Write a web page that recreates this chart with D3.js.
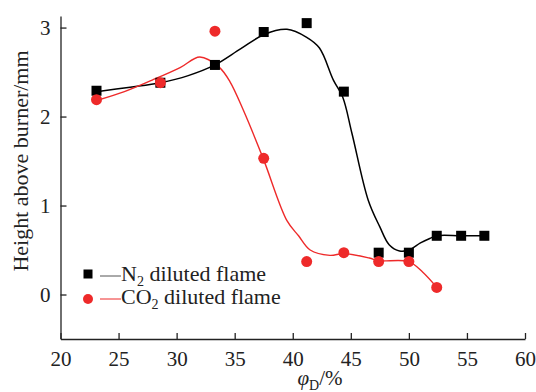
<!DOCTYPE html>
<html>
<head>
<meta charset="utf-8">
<script src="https://cdn.jsdelivr.net/npm/d3@7"></script>
<style>
  body { margin: 0; background: #fff; }
  svg { font-family: "Liberation Serif", "Times New Roman", serif; }
  .axis path, .axis line { stroke: #222; stroke-width: 1.3; }
  .axis text { font-size: 21px; fill: #222; font-family: "Liberation Serif", "Times New Roman", serif; }
</style>
</head>
<body>
<div id="chart"></div>
<script>
// measured points
const n2X = [23.1, 28.6, 33.3, 37.5, 41.2, 44.4, 47.4, 50.0, 52.4, 54.5, 56.5];
const n2Y = [2.29, 2.38, 2.58, 2.95, 3.05, 2.28, 0.47, 0.47, 0.66, 0.66, 0.66];
const co2X = [23.1, 28.6, 33.3, 37.5, 41.2, 44.4, 47.4, 50.0, 52.4];
const co2Y = [2.19, 2.38, 2.96, 1.53, 0.37, 0.47, 0.37, 0.37, 0.08];

// fitted curves
const n2FitX = [23.1, 26, 28.6, 31, 33.3, 35.5, 37.5, 39.5, 41.2, 42.3, 43.5, 44.3, 45.1, 46.5, 47.5, 48.3, 49.2, 50, 51, 51.8, 52.4, 54.5, 56.5];
const n2FitY = [2.28, 2.33, 2.38, 2.46, 2.58, 2.76, 2.92, 2.98, 2.89, 2.77, 2.41, 2.22, 1.81, 1.06, 0.76, 0.56, 0.49, 0.50, 0.58, 0.63, 0.66, 0.66, 0.66];
const co2FitX = [23.1, 25.5, 27.9, 30.3, 32.0, 33.7, 34.6, 35.75, 37.45, 39.5, 40.5, 41.5, 43.2, 44.4, 46.6, 47.4, 50, 51.2, 52.4];
const co2FitY = [2.18, 2.28, 2.41, 2.55, 2.67, 2.55, 2.39, 2.07, 1.53, 0.83, 0.66, 0.50, 0.44, 0.46, 0.41, 0.38, 0.37, 0.25, 0.08];

const xTicks = [20, 25, 30, 35, 40, 45, 50, 55, 60];
const yTicks = [0, 1, 2, 3];

const width = 536, height = 392;
const margin = { top: 16, right: 11, bottom: 53, left: 60.5 };
const serif = '"Liberation Serif", "Times New Roman", serif';

const svg = d3.select('#chart').append('svg')
  .attr('width', width)
  .attr('height', height);

const x = d3.scaleLinear().domain([20, 60]).range([margin.left, width - margin.right]);
const y = d3.scaleLinear().domain([-0.5, 3.13]).range([height - margin.bottom, margin.top]);

// axes, ticks pointing inward
svg.append('g')
  .attr('class', 'axis axis-x')
  .attr('transform', `translate(0, ${height - margin.bottom})`)
  .call(d3.axisBottom(x).tickValues(xTicks).tickFormat(d3.format('d')).tickSizeInner(-6).tickSizeOuter(0).tickPadding(6))
  .call(g => g.selectAll('text').attr('dy', '1.0em').style('font-family', serif));

svg.append('g')
  .attr('class', 'axis axis-y')
  .attr('transform', `translate(${margin.left}, 0)`)
  .call(d3.axisLeft(y).tickValues(yTicks).tickFormat(d3.format('d')).tickSizeInner(-6).tickSizeOuter(0).tickPadding(10))
  .call(g => g.selectAll('text').attr('dy', '0.34em').style('font-family', serif));

// axis titles
svg.append('text')
  .attr('transform', 'translate(28, 161) rotate(-90)')
  .attr('text-anchor', 'middle')
  .style('font-size', '22px')
  .style('fill', '#222')
  .text('Height above burner/mm');

const xt = svg.append('text')
  .attr('x', 320)
  .attr('y', 385)
  .attr('text-anchor', 'middle')
  .style('font-size', '21px')
  .style('fill', '#222');
xt.append('tspan').style('font-style', 'italic').text('φ');
xt.append('tspan').attr('dy', 5).style('font-size', '14px').text('D');
xt.append('tspan').attr('dy', -5).text('/%');

// curves
const line = (xs, ys) => d3.line()
  .x(i => x(xs[i]))
  .y(i => y(ys[i]))
  .curve(d3.curveCatmullRom.alpha(0.5))(d3.range(xs.length));

svg.append('path')
  .attr('d', line(n2FitX, n2FitY))
  .attr('fill', 'none')
  .attr('stroke', '#000')
  .attr('stroke-width', 1.5);

svg.append('path')
  .attr('d', line(co2FitX, co2FitY))
  .attr('fill', 'none')
  .attr('stroke', '#ee2a2a')
  .attr('stroke-width', 1.4);

// markers
const sq = 10;
svg.append('g').selectAll('rect')
  .data(d3.range(n2X.length))
  .join('rect')
  .attr('x', i => x(n2X[i]) - sq / 2)
  .attr('y', i => y(n2Y[i]) - sq / 2)
  .attr('width', sq)
  .attr('height', sq)
  .attr('fill', '#000');

svg.append('g').selectAll('circle')
  .data(d3.range(co2X.length))
  .join('circle')
  .attr('cx', i => x(co2X[i]))
  .attr('cy', i => y(co2Y[i]))
  .attr('r', 5.5)
  .attr('fill', '#ee2a2a');

// legend
const legend = svg.append('g').attr('transform', 'translate(88, 274)');
legend.append('rect').attr('x', -4.5).attr('y', -4.5).attr('width', 9).attr('height', 9).attr('fill', '#000');
legend.append('line').attr('x1', 12).attr('x2', 33).attr('y1', 2).attr('y2', 2)
  .attr('stroke', '#555').attr('stroke-width', 1);
const t1 = legend.append('text').attr('x', 33).attr('y', 7).style('font-size', '22px').style('fill', '#222');
t1.append('tspan').text('N');
t1.append('tspan').attr('dy', 5).style('font-size', '14px').text('2');
t1.append('tspan').attr('dy', -5).text(' diluted flame');

legend.append('circle').attr('cx', 0).attr('cy', 25).attr('r', 5).attr('fill', '#ee2a2a');
legend.append('line').attr('x1', 12).attr('x2', 33).attr('y1', 25).attr('y2', 25)
  .attr('stroke', '#ee2a2a').attr('stroke-width', 1);
const t2 = legend.append('text').attr('x', 33).attr('y', 30).style('font-size', '22px').style('fill', '#222');
t2.append('tspan').text('CO');
t2.append('tspan').attr('dy', 5).style('font-size', '14px').text('2');
t2.append('tspan').attr('dy', -5).text(' diluted flame');
</script>
</body>
</html>
